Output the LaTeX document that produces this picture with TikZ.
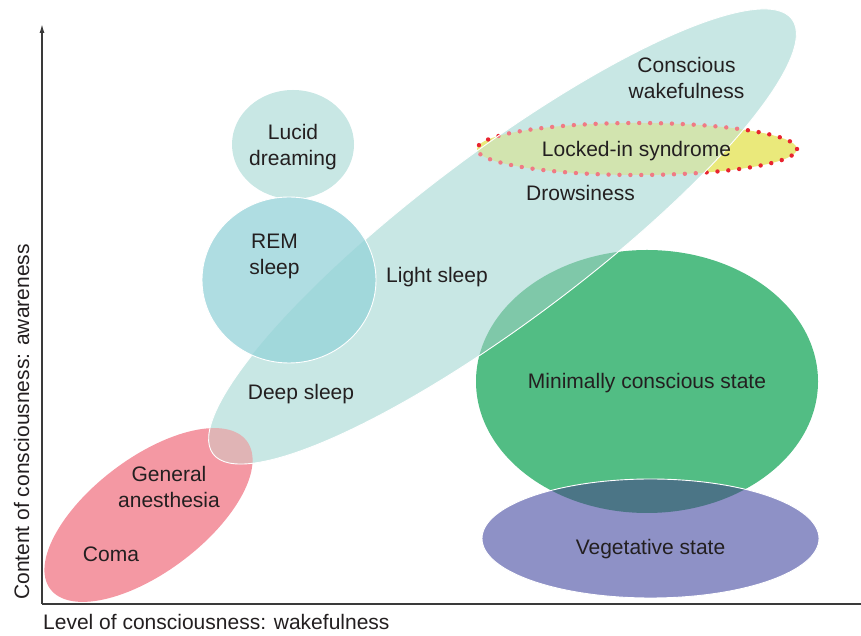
\documentclass[tikz,border=0pt]{standalone}
\usepackage{fontspec}
\setmainfont{Liberation Sans}
\usetikzlibrary{arrows.meta}
\definecolor{tealc}{HTML}{C8E7E4}
\definecolor{remc}{HTML}{AFDDE2}
\definecolor{remtealc}{HTML}{A1D8DB}
\definecolor{greenc}{HTML}{52BD84}
\definecolor{greentealc}{HTML}{7FC8A9}
\definecolor{pinkc}{HTML}{F498A3}
\definecolor{pinktealc}{HTML}{E0B4B5}
\definecolor{yellowc}{HTML}{EAE97B}
\definecolor{yellowtealc}{HTML}{D2E4AF}
\definecolor{redc}{HTML}{E8242F}
\definecolor{lightredc}{HTML}{F07A84}
\definecolor{purplec}{HTML}{8E91C6}
\definecolor{purplegreenc}{HTML}{4B7586}
\definecolor{textc}{HTML}{231F20}
\definecolor{axisc}{HTML}{3A3A3A}
\begin{document}
\begin{tikzpicture}[x=1pt,y=1pt,
  lbl/.style={text=textc, font=\fontsize{21}{26}\selectfont, inner sep=0pt, align=center},
  tealrot/.style={rotate around={36.9:(502.5,399.5)}},
  pinkrot/.style={rotate around={37:(148.5,121)}},
  edge/.style={draw=white, line width=0.9pt},
  dotsty/.style={line width=4.4pt, line cap=round, dash pattern=on 0pt off 10.9pt},
  axisline/.style={draw=axisc, line width=1.4pt}]
\useasboundingbox (0,0) rectangle (861,636);
% pink: coma / anesthesia
\fill[pinkc, pinkrot] (148.5,121) ellipse [x radius=123pt, y radius=57pt];
% minimally conscious state
\fill[greenc] (647,254.5) ellipse [x radius=171pt, y radius=131.5pt];
% locked-in syndrome
\fill[yellowc] (637,487) ellipse [x radius=160pt, y radius=26pt];
\draw[dotsty, redc] (637,487) ellipse [x radius=160pt, y radius=26pt];
% big teal ellipse
\fill[tealc, tealrot] (502.5,399.5) ellipse [x radius=362pt, y radius=84pt];
\begin{scope}
  \clip[tealrot] (502.5,399.5) ellipse [x radius=362pt, y radius=84pt];
  \fill[pinktealc, pinkrot] (148.5,121) ellipse [x radius=123pt, y radius=57pt];
  \fill[greentealc] (647,254.5) ellipse [x radius=171pt, y radius=131.5pt];
  \fill[yellowtealc] (637,487) ellipse [x radius=160pt, y radius=26pt];
  \draw[dotsty, lightredc] (637,487) ellipse [x radius=160pt, y radius=26pt];
\end{scope}
\draw[edge, tealrot] (502.5,399.5) ellipse [x radius=362pt, y radius=84pt];
% lucid dreaming
\fill[tealc] (293,491.5) ellipse [x radius=61pt, y radius=54.5pt];
% REM sleep
\fill[remc] (289,356) ellipse [x radius=87pt, y radius=83pt];
\begin{scope}
  \clip[tealrot] (502.5,399.5) ellipse [x radius=362pt, y radius=84pt];
  \fill[remtealc] (289,356) ellipse [x radius=87pt, y radius=83pt];
\end{scope}
\draw[edge] (289,356) ellipse [x radius=87pt, y radius=83pt];
% vegetative state
\fill[purplec] (650.5,97.5) ellipse [x radius=168.5pt, y radius=59.5pt];
\begin{scope}
  \clip (647,254.5) ellipse [x radius=171pt, y radius=131.5pt];
  \fill[purplegreenc] (650.5,97.5) ellipse [x radius=168.5pt, y radius=59.5pt];
\end{scope}
\draw[edge] (650.5,97.5) ellipse [x radius=168.5pt, y radius=59.5pt];
% axes
\coordinate (orig) at (42,32);
\coordinate (ytop) at (42,612);
\coordinate (xend) at (862,32);
\draw[axisline, -{Latex[length=9pt,width=5pt]}] (orig) -- (ytop);
\draw[axisline] (orig) -- (xend);
% labels
\node[lbl] (lucid) at (293,489.4) {Lucid\\dreaming};
\node[lbl] (rem) at (274.5,379.1) {REM\\sleep};
\node[lbl, anchor=base] (light) at (437,353) {Light sleep};
\node[lbl] (wake) at (686.5,557.8) {Conscious\\wakefulness};
\node[lbl, anchor=base] (locked) at (636.5,479.3) {Locked-in syndrome};
\node[lbl, anchor=base] (drowsy) at (580.5,435.3) {Drowsiness};
\node[lbl, anchor=base] (deep) at (301,236) {Deep sleep};
\node[lbl] (anest) at (169,148.6) {General\\anesthesia};
\node[lbl, anchor=base] (coma) at (111,74.3) {Coma};
\node[lbl, anchor=base] (mcs) at (647,247.7) {Minimally conscious state};
\node[lbl, anchor=base] (veg) at (650.5,81) {Vegetative state};
\node[lbl, anchor=base west] (xlab) at (43,6) {Level of consciousness: wakefulness};
\node[lbl, anchor=base west, rotate=90] (ylab) at (29,36) {Content of consciousness: awareness};
\end{tikzpicture}
\end{document}
